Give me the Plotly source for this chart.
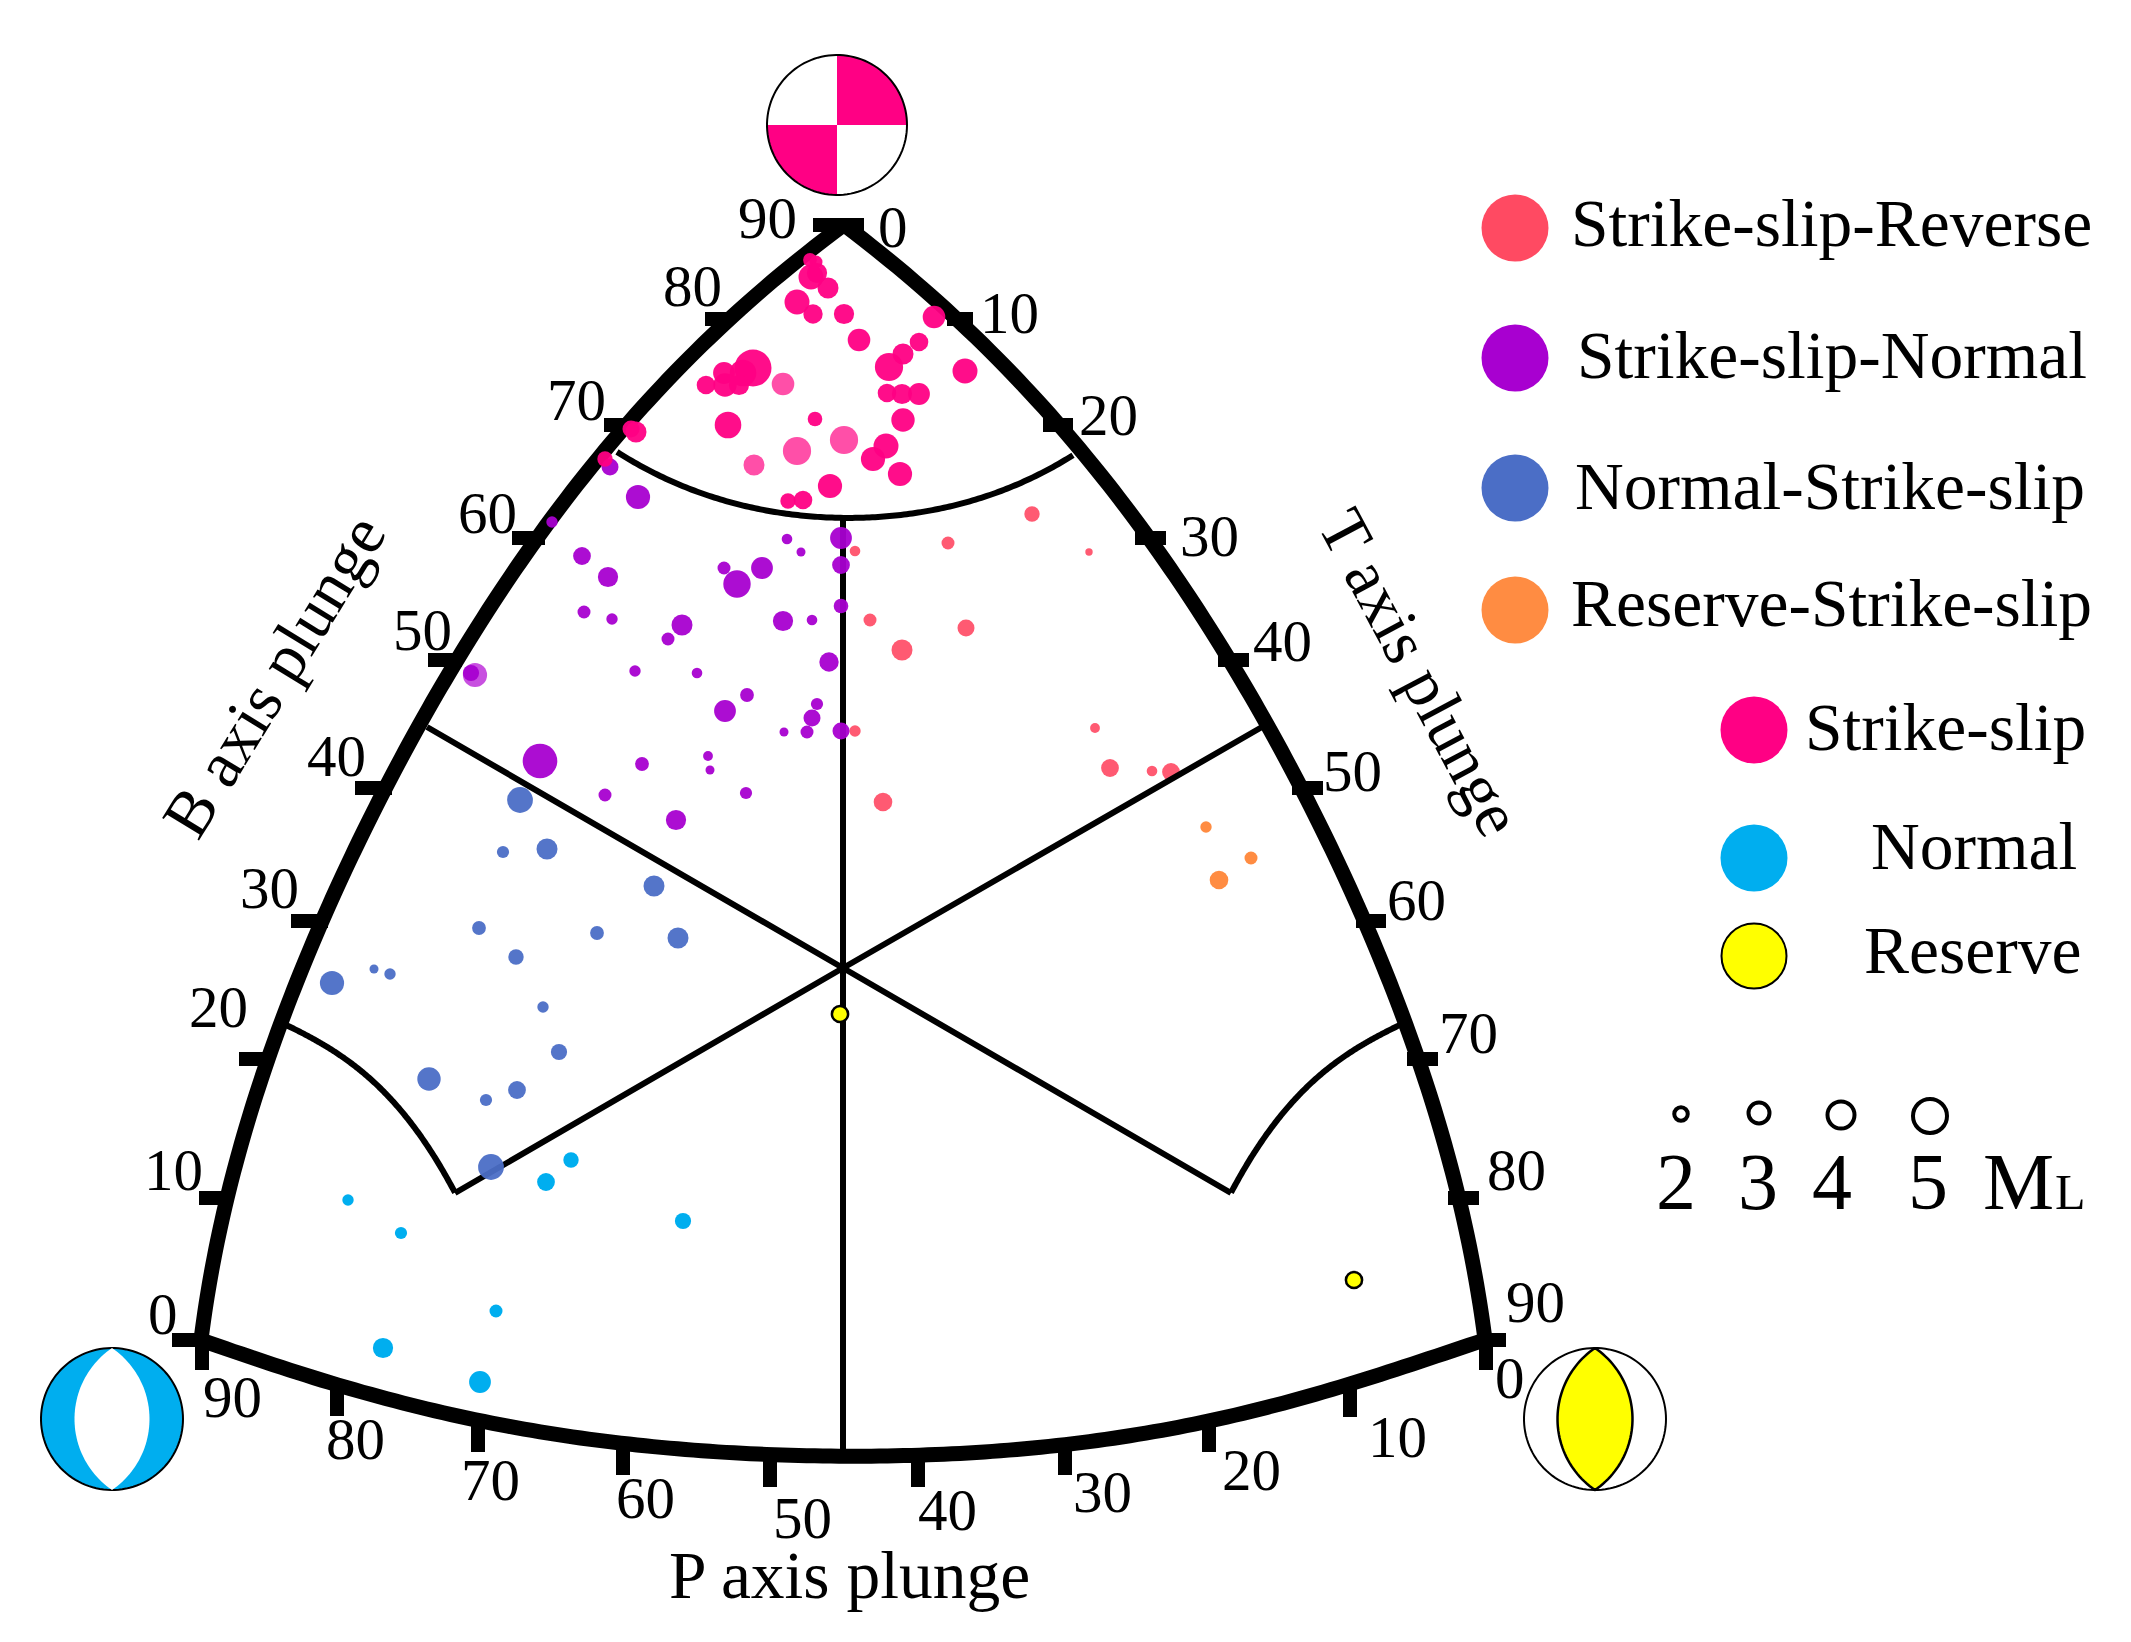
import numpy as np
import plotly.graph_objects as go

W, H = 2131, 1642
SERIF = "Liberation Serif"

# ---- events: x, y in diagram units, ML magnitude ----
ss_x = [810,816,811,817,828,797,813,844,859,934,919,903,889,965,887,902,919,903,753,743,724,725,739,706,728,815,636,631,886,873,900,830,788,803,605]
ss_y = [260,262,277,273,288,302,314,314,340,317,342,354,367,371,393,394,394,420,368,373,373,385,385,385,425,419,432,429,446,459,474,486,501,500,459]
ss_ml = [2.1,2.0,3.5,2.9,3.0,3.5,2.8,2.9,3.2,3.2,2.7,3.0,3.9,3.5,2.7,2.9,3.1,3.3,5.0,3.7,3.1,3.3,2.9,2.7,3.7,2.2,3.0,2.5,3.5,3.4,3.4,3.4,2.3,2.7,2.3]
ss_pale_x = [783,797,844,754]
ss_pale_y = [384,451,440,465]
ss_pale_ml = [3.2,3.9,3.9,3.0]

ssn_x = [552,638,610,787,801,841,841,841,582,608,724,762,737,584,612,682,668,783,812,829,471,635,697,747,725,817,812,784,807,841,540,642,708,710,605,746,676]
ssn_y = [522,497,467,539,552,538,565,606,556,577,568,568,584,612,619,625,639,621,620,662,673,671,673,695,711,704,718,732,732,731,761,764,756,770,795,793,820]
ssn_ml = [1.8,3.4,2.5,1.7,1.5,3.1,2.6,2.2,2.6,2.9,2.0,3.1,3.8,2.0,1.8,3.0,2.0,2.9,1.7,2.8,2.4,1.8,1.7,2.1,3.1,1.9,2.5,1.5,2.0,2.5,4.7,2.1,1.6,1.5,2.0,1.9,2.9]
ssn_pale_x = [475]
ssn_pale_y = [675]
ssn_pale_ml = [3.4]

nss_x = [520,503,547,654,479,597,678,516,332,374,390,543,559,429,517,486,491]
nss_y = [800,852,849,886,928,933,938,957,983,969,974,1007,1052,1079,1090,1100,1167]
nss_ml = [3.6,1.9,3.0,3.0,2.1,2.1,3.0,2.3,3.4,1.5,1.8,1.8,2.4,3.3,2.6,1.9,3.6]

nor_x = [546,571,348,401,683,496,383,480]
nor_y = [1182,1160,1200,1233,1221,1311,1348,1382]
nor_ml = [2.6,2.3,1.8,1.9,2.4,2.0,2.9,3.1]

ssr_x = [855,870,855,883,1032,948,1089,966,902,1095,1110,1152,1171]
ssr_y = [551,620,731,802,514,543,552,628,650,728,768,771,772]
ssr_ml = [1.7,2.0,1.8,2.7,2.3,2.0,1.3,2.5,3.0,1.6,2.6,1.7,2.6]

rss_x = [1206,1251,1219]
rss_y = [827,858,880]
rss_ml = [1.8,2.0,2.7]

rev_x = [840,1354]
rev_y = [1014,1280]
rev_ml = [2.4,2.4]

# ---- diagram frame, read at the tick positions ----
left_x = [844,728,628,538,455,420,387,322,268,227,201]
left_y = [225,319,425,538,660,723,788,921,1059,1198,1340]
right_x = [844,958,1058,1148,1231,1266,1301,1364,1418,1459,1485]
right_y = [225,319,425,538,660,723,788,921,1059,1198,1340]
bottom_x = [201,337,478,623,770,843,918,1063,1209,1350,1485]
bottom_y = [1340,1385,1420,1443,1455,1457,1455,1443,1423,1383,1340]

arc_top_x = [617,700,770,844,916,1000,1073]
arc_top_y = [452,492,512,518,512,492,455]
arc_left_x = [455,424,384,339,286]
arc_left_y = [1193,1140,1093,1054,1025]
arc_right_x = [1231,1262,1302,1347,1400]
arc_right_y = [1193,1140,1093,1054,1025]
spoke_x = [843,843,None,427,843,1231,None,455,843,1262]
spoke_y = [520,1455,None,727,968,1193,None,1193,968,727]

# tick marks
ltick_x0 = [813,705,604,512,428,355,291,239,199,172]
ltick_x1 = [844,733,632,545,462,392,328,273,232,205]
ltick_y = [225,319,425,538,660,788,921,1059,1198,1340]
rtick_x0 = [844,947,1043,1135,1218,1292,1356,1407,1448,1478]
rtick_x1 = [864,973,1073,1166,1249,1323,1386,1438,1479,1506]
rtick_y = [225,319,425,538,660,788,921,1059,1198,1340]
btick_x = [202,337,478,623,770,918,1065,1209,1350,1486]
btick_y0 = [1340,1385,1420,1443,1455,1455,1443,1423,1383,1340]
btick_y1 = [1370,1416,1452,1475,1487,1487,1475,1452,1417,1370]

# ---- tick labels ----
l_lab = ["90","80","70","60","50","40","30","20","10","0"]
l_lab_x = [767,692,576,487,422,336,269,218,173,163]
l_lab_y = [218,286,400,513,630,756,888,1007,1170,1314]
r_lab = ["0","10","20","30","40","50","60","70","80","90"]
r_lab_x = [893,1009,1108,1209,1282,1352,1416,1468,1516,1535]
r_lab_y = [227,313,415,536,641,771,900,1033,1170,1302]
b_lab = ["90","80","70","60","50","40","30","20","10","0"]
b_lab_x = [232,355,490,645,802,947,1102,1251,1397,1510]
b_lab_y = [1397,1439,1480,1498,1518,1510,1492,1470,1437,1378]

# ---- legend ----
cls_names = ["Strike-slip-Reverse","Strike-slip-Normal","Normal-Strike-slip","Reserve-Strike-slip","Strike-slip","Normal","Reserve"]
cls_text_x = [1831,1832,1830,1831,1945,1974,1972]
cls_text_y = [223,355,486,603,727,846,950]
cls_dot_x = [1515,1515,1515,1515,1754,1754,1754]
cls_dot_y = [228,358,488,610,730,858,956]
key_ml = ["2","3","4","5"]
key_dot_x = [1681,1759,1841,1930]
key_dot_y = [1114,1113,1115,1116]
key_dot_d = [13.5,21,27,34]
key_text_x = [1676,1758,1832,1928]

PINK, PINK_PALE = "#FF0084", "#FF4FA8"
PURPLE, PURPLE_PALE = "#A800D0", "#C850E0"
BLUE, CYAN = "#4B6EC6", "#00AEEF"
RED, ORANGE, YELLOW = "#FF5A72", "#FF8C42", "#FFFF00"
cls_colors = ["#FF4A62",PURPLE,BLUE,ORANGE,PINK,CYAN,YELLOW]


def sz(ml):
    return [8 * m - 3 for m in ml]


fig = go.Figure()


def dots(x, y, ml, color, opacity=0.95, line=None):
    fig.add_trace(go.Scatter(x=x, y=y, mode="markers", hoverinfo="skip", showlegend=False,
                             marker=dict(size=sz(ml), color=color, opacity=opacity,
                                         line=line or dict(width=0))))


def stroke(x, y, width):
    fig.add_trace(go.Scatter(x=x, y=y, mode="lines", hoverinfo="skip", showlegend=False,
                             connectgaps=False,
                             line=dict(color="black", width=width, simplify=False)))


def area(x, y, color, line_width=0):
    fig.add_trace(go.Scatter(x=x, y=y, mode="lines", fill="toself", fillcolor=color, hoverinfo="skip",
                             showlegend=False, line=dict(color="black", width=line_width, simplify=False)))


def smooth(u, v, degree, n=160):
    u = np.asarray(u, float)
    scale = u.max() - u.min()
    mid = u.mean()
    coef = np.polyfit((u - mid) / scale, np.asarray(v, float), degree)
    uu = np.linspace(u.min(), u.max(), n)
    return uu.tolist(), np.polyval(coef, (uu - mid) / scale).tolist()


dots(ssr_x, ssr_y, ssr_ml, RED, 1)

stroke(spoke_x, spoke_y, 6)
a_, b_ = smooth(arc_top_x, arc_top_y, 4)
stroke(a_, b_, 6)
a_, b_ = smooth(arc_left_x, arc_left_y, 3)
stroke(a_, b_, 6)
a_, b_ = smooth(arc_right_x, arc_right_y, 3)
stroke(a_, b_, 6)

a_, b_ = smooth(left_y, left_x, 5)
stroke(b_, a_, 15)
a_, b_ = smooth(right_y, right_x, 5)
stroke(b_, a_, 15)
a_, b_ = smooth(bottom_x, bottom_y, 6)
stroke(a_, b_, 15)


def ladder(a0, a1, b):
    out0, out1 = [], []
    for p, q, r in zip(a0, a1, b):
        out0 += [p, q, None]
        out1 += [r, r, None]
    return out0, out1


tx, ty = ladder(ltick_x0, ltick_x1, ltick_y)
stroke(tx, ty, 14)
tx, ty = ladder(rtick_x0, rtick_x1, rtick_y)
stroke(tx, ty, 14)
ty, tx = ladder(btick_y0, btick_y1, btick_x)
stroke(tx, ty, 14)

dots(ssn_pale_x, ssn_pale_y, ssn_pale_ml, PURPLE_PALE, 1)
dots(ssn_x, ssn_y, ssn_ml, PURPLE)
dots(nss_x, nss_y, nss_ml, BLUE)
dots(nor_x, nor_y, nor_ml, CYAN, 1)
dots(rss_x, rss_y, rss_ml, ORANGE, 1)
dots(ss_pale_x, ss_pale_y, ss_pale_ml, PINK_PALE, 1)
dots(ss_x, ss_y, ss_ml, PINK)
fig.add_trace(go.Scatter(x=rev_x, y=rev_y, mode="markers", hoverinfo="skip", showlegend=False,
                         marker=dict(size=sz(rev_ml), color=YELLOW, opacity=1,
                                     line=dict(color="black", width=2.5))))

# legend dots
fig.add_trace(go.Scatter(x=cls_dot_x, y=cls_dot_y, mode="markers", hoverinfo="skip", showlegend=False,
                         marker=dict(size=[67] * 6 + [65], color=cls_colors, opacity=1,
                                     line=dict(color=["rgba(0,0,0,0)"] * 6 + ["black"], width=2))))
fig.add_trace(go.Scatter(x=key_dot_x, y=key_dot_y, mode="markers", hoverinfo="skip", showlegend=False,
                         marker=dict(size=key_dot_d, color="white", opacity=1,
                                     line=dict(color="black", width=4))))


# focal-mechanism glyphs
def circle_xy(cx, cy, r, n=120):
    t = np.linspace(0, 2 * np.pi, n)
    return (cx + r * np.cos(t)).tolist(), (cy + r * np.sin(t)).tolist()


def lens_xy(cx, cy, r, w, n=50):
    R = (r * r + w * w) / (2 * w)
    a = np.arcsin(r / R)
    t = np.linspace(-a, a, n)
    xr = cx + (w - R) + R * np.cos(t)
    yr = cy + R * np.sin(t)
    xl = cx - (w - R) - R * np.cos(t[::-1])
    yl = cy + R * np.sin(t[::-1])
    return np.r_[xr, xl, xr[0]].tolist(), np.r_[yr, yl, yr[0]].tolist()


def quadrant_xy(cx, cy, r, t0, t1, n=40):
    t = np.linspace(t0, t1, n)
    return np.r_[cx, cx + r * np.cos(t), cx].tolist(), np.r_[cy, cy + r * np.sin(t), cy].tolist()


# strike-slip ball
bx, by, br = 837, 125, 70
x_, y_ = circle_xy(bx, by, br)
area(x_, y_, "white", 0)
x_, y_ = quadrant_xy(bx, by, br, -np.pi / 2, 0)
area(x_, y_, PINK, 0)
x_, y_ = quadrant_xy(bx, by, br, np.pi / 2, np.pi)
area(x_, y_, PINK, 0)
x_, y_ = circle_xy(bx, by, br)
stroke(x_, y_, 2)

# normal ball
bx, by, br = 112, 1419, 71
x_, y_ = circle_xy(bx, by, br)
area(x_, y_, CYAN, 2)
x_, y_ = lens_xy(bx, by, br, 37.5)
area(x_, y_, "white", 0)

# reverse ball
bx, by, br = 1595, 1419, 71
x_, y_ = circle_xy(bx, by, br)
area(x_, y_, "white", 2)
x_, y_ = lens_xy(bx, by, br, 37.5)
area(x_, y_, YELLOW, 2.5)

ann = []


def label(x, y, s, size, angle=0):
    ann.append(dict(x=x, y=y, xref="x", yref="y", text=s, showarrow=False, textangle=angle,
                    xanchor="center", yanchor="middle",
                    font=dict(family=SERIF, size=size, color="black")))


for xs, ys, ts in [(l_lab_x, l_lab_y, l_lab), (r_lab_x, r_lab_y, r_lab), (b_lab_x, b_lab_y, b_lab)]:
    for a, b, c in zip(xs, ys, ts):
        label(a, b, c, 59)
for a, b, c in zip(cls_text_x, cls_text_y, cls_names):
    label(a, b, c, 67.5)
for a, c in zip(key_text_x, key_ml):
    label(a, 1182, c, 80)
label(2018, 1182, "M", 80)
label(2070, 1192, "L", 50)
label(849, 1575, "P axis plunge", 67.5)
label(273, 676, "B axis plunge", 66, -58.5)
label(1421, 672, "T axis plunge", 66, 62)

fig.update_layout(
    width=W, height=H, margin=dict(l=0, r=0, t=0, b=0), showlegend=False,
    paper_bgcolor="white", plot_bgcolor="white", annotations=ann,
    xaxis=dict(range=[0, W], visible=False, fixedrange=True),
    yaxis=dict(range=[H, 0], visible=False, fixedrange=True),
)
fig.write_html("out.html", config={"displayModeBar": False},
               post_script="document.body.style.margin='0';document.documentElement.style.overflow='hidden';")
